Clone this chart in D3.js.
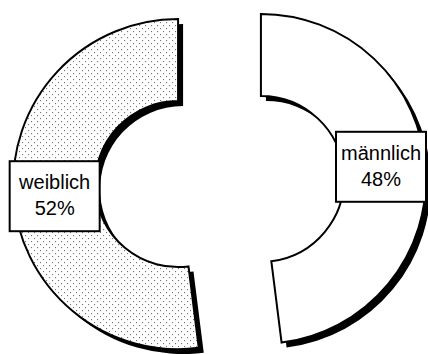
<!DOCTYPE html>
<html>
<head>
<meta charset="utf-8">
<script src="https://cdn.jsdelivr.net/npm/d3@7/dist/d3.min.js"></script>
<style>
    body { margin: 0; background: #fff; }
    svg { display: block; }
</style>
</head>
<body>
<div id="chart"></div>
<script>
// slices go clockwise from 12 o'clock
var categories = ["männlich", "weiblich"];
var shares = [48, 52];
var percentLabels = ["48%", "52%"];
var fills = ["#fff", "url(#dots)"];

var width = 428, height = 354;
var cx = 219.5, cy = 181.5;
var outerR = 165, innerR = 83;
var explode = 41.5;
var shadowDx = 5, shadowDy = 5;
var labelTilt = -2 * Math.PI / 180;

var svg = d3.select("#chart").append("svg")
    .attr("width", width).attr("height", height);

var pattern = svg.append("defs").append("pattern")
    .attr("id", "dots")
    .attr("patternUnits", "userSpaceOnUse")
    .attr("width", 6).attr("height", 6);
pattern.append("rect").attr("width", 6).attr("height", 6).attr("fill", "#fff");
pattern.append("rect").attr("x", 0).attr("y", 0).attr("width", 1).attr("height", 1).attr("fill", "#555");
pattern.append("rect").attr("x", 3).attr("y", 3).attr("width", 1).attr("height", 1).attr("fill", "#555");

var pie = d3.pie().sort(null).value(function (d) { return d; });
var arcs = pie(shares);

var arc = d3.arc().innerRadius(innerR).outerRadius(outerR);

function midAngle(d) { return (d.startAngle + d.endAngle) / 2; }

function offset(d) {
    var a = midAngle(d);
    return [cx + explode * Math.sin(a), cy - explode * Math.cos(a)];
}

var slices = svg.selectAll("g.slice")
    .data(arcs)
    .enter().append("g")
    .attr("class", "slice")
    .attr("transform", function (d) {
        var o = offset(d);
        return "translate(" + o[0] + "," + o[1] + ")";
    });

// shadow
slices.append("path")
    .attr("d", arc)
    .attr("transform", "translate(" + shadowDx + "," + shadowDy + ")")
    .attr("fill", "#000");

slices.append("path")
    .attr("d", arc)
    .attr("fill", function (d, i) { return fills[i]; })
    .attr("stroke", "#000")
    .attr("stroke-width", 2)
    .attr("stroke-linejoin", "miter");

// labels
var boxW = 90, boxH = 70;
var labelR = (innerR + outerR) / 2;
var labels = svg.selectAll("g.label")
    .data(arcs)
    .enter().append("g")
    .attr("class", "label")
    .attr("transform", function (d) {
        var o = offset(d);
        var a = midAngle(d) + labelTilt;
        var x = o[0] + labelR * Math.sin(a);
        var y = o[1] - labelR * Math.cos(a);
        x = Math.min(x, width - boxW / 2 - 2);
        return "translate(" + x + "," + y + ")";
    });

labels.append("rect")
    .attr("x", -boxW / 2).attr("y", -boxH / 2)
    .attr("width", boxW).attr("height", boxH)
    .attr("fill", "#fff")
    .attr("stroke", "#000")
    .attr("stroke-width", 2);

labels.append("text")
    .attr("text-anchor", "middle")
    .attr("y", -7)
    .style("font-family", "'Liberation Sans', Arial, sans-serif")
    .style("font-size", "20px")
    .text(function (d, i) { return categories[i]; });

labels.append("text")
    .attr("text-anchor", "middle")
    .attr("y", 19)
    .style("font-family", "'Liberation Sans', Arial, sans-serif")
    .style("font-size", "20px")
    .text(function (d, i) { return percentLabels[i]; });
</script>
</body>
</html>
